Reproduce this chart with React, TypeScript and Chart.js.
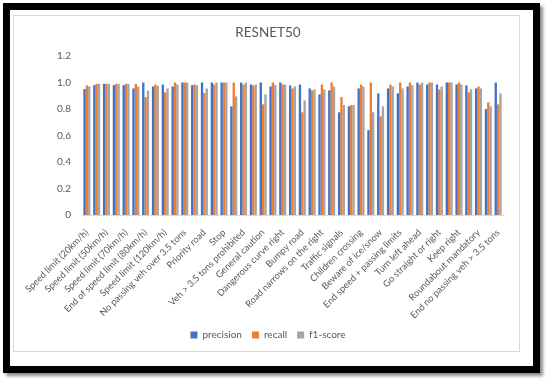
import React, { useEffect, useRef } from "react";
import { Chart, registerables } from "chart.js";

Chart.register(...registerables);

const categories = [
  "Speed limit (20km/h)",
  "Speed limit (30km/h)",
  "Speed limit (50km/h)",
  "Speed limit (60km/h)",
  "Speed limit (70km/h)",
  "Speed limit (80km/h)",
  "End of speed limit (80km/h)",
  "Speed limit (100km/h)",
  "Speed limit (120km/h)",
  "No passing",
  "No passing veh over 3.5 tons",
  "Right-of-way at intersection",
  "Priority road",
  "Yield",
  "Stop",
  "No vehicles",
  "Veh > 3.5 tons prohibited",
  "No entry",
  "General caution",
  "Dangerous curve left",
  "Dangerous curve right",
  "Double curve",
  "Bumpy road",
  "Slippery road",
  "Road narrows on the right",
  "Road work",
  "Traffic signals",
  "Pedestrians",
  "Children crossing",
  "Bicycles crossing",
  "Beware of ice/snow",
  "Wild animals crossing",
  "End speed + passing limits",
  "Turn right ahead",
  "Turn left ahead",
  "Ahead only",
  "Go straight or right",
  "Go straight or left",
  "Keep right",
  "Keep left",
  "Roundabout mandatory",
  "End of no passing",
  "End no passing veh > 3.5 tons",
];

const precision = [
  0.95, 0.98, 0.99, 0.98, 0.98, 0.955, 1.0, 0.97, 0.985, 0.97, 1.0, 0.98, 1.0, 1.0, 1.0,
  0.82, 1.0, 0.985, 1.0, 0.97, 1.0, 0.978, 0.985, 0.955, 0.91, 0.94, 0.775, 0.82, 0.955,
  0.64, 0.918, 0.955, 0.918, 0.97, 1.0, 0.985, 0.985, 1.0, 0.985, 0.978, 0.955, 0.8, 1.0,
];

const recall = [
  0.978, 0.99, 0.99, 0.99, 0.99, 0.99, 0.89, 0.985, 0.925, 1.0, 1.0, 0.985, 0.92, 0.985,
  1.0, 1.0, 0.985, 0.978, 0.835, 1.0, 0.985, 0.955, 0.775, 0.94, 0.985, 1.0, 0.89, 0.83,
  0.985, 1.0, 0.745, 0.985, 1.0, 1.0, 0.985, 1.0, 0.948, 1.0, 1.0, 0.925, 0.97, 0.85, 0.835,
];

const f1Score = [
  0.97, 0.99, 0.99, 0.99, 0.99, 0.97, 0.94, 0.975, 0.955, 0.985, 1.0, 0.98, 0.955, 1.0,
  1.0, 0.895, 1.0, 0.985, 0.91, 0.98, 0.985, 0.97, 0.865, 0.948, 0.948, 0.97, 0.83, 0.83,
  0.97, 0.775, 0.82, 0.97, 0.955, 0.98, 1.0, 1.0, 0.97, 1.0, 0.985, 0.948, 0.955, 0.82, 0.918,
];

const chartTitle = "RESNET50";
const seriesNames = ["precision", "recall", "f1-score"];
const seriesColors = ["#4472C4", "#ED7D31", "#A5A5A5"];

export default function App() {
  const canvasRef = useRef<HTMLCanvasElement | null>(null);

  useEffect(() => {
    if (!canvasRef.current) return;
    const textColor = "#595959";
    const family = "Lato, 'Liberation Sans', sans-serif";
    const chart = new Chart(canvasRef.current, {
      type: "bar",
      data: {
        labels: categories,
        datasets: [precision, recall, f1Score].map((d, i) => ({
          label: seriesNames[i],
          data: d,
          backgroundColor: seriesColors[i],
          borderWidth: 0,
          categoryPercentage: 0.72,
          barPercentage: 1.0,
        })),
      },
      options: {
        animation: false,
        responsive: false,
        maintainAspectRatio: false,
        layout: { padding: { left: 13, right: 23, top: 15, bottom: 33 } },
        plugins: {
          title: {
            display: true,
            text: chartTitle,
            color: textColor,
            font: { family, size: 13.5, weight: "normal" },
            padding: { top: 9.9, bottom: 14.9 },
          },
          legend: {
            position: "bottom",
            labels: {
              color: textColor,
              font: { family, size: 10 },
              boxWidth: 7,
              boxHeight: 7,
              padding: 10,
            },
          },
          tooltip: { enabled: false },
        },
        scales: {
          x: {
            grid: { display: false, drawTicks: false },
            border: { display: true, color: "#d9d9d9", width: 1 },
            ticks: {
              autoSkip: false,
              minRotation: 45,
              maxRotation: 45,
              color: textColor,
              font: { family, size: 9.3 },
              padding: 12,
              callback: function (this: any, val: any, idx: number) {
                return idx % 2 === 0 ? this.getLabelForValue(val) : "";
              },
            },
            afterFit: (scale: any) => {
              scale.height = 105;
              scale.paddingLeft = 0;
              scale.paddingRight = 43;
            },
          },
          y: {
            min: 0,
            max: 1.2,
            grid: { display: false, drawTicks: false },
            border: { display: false },
            ticks: {
              stepSize: 0.2,
              color: textColor,
              font: { family, size: 10 },
              padding: 11,
            },
            afterFit: (scale: any) => {
              scale.width = 69;
            },
          },
        },
      },
    });
    return () => chart.destroy();
  }, []);

  return (
    <div style={{ position: "fixed", left: 0, top: 0, width: 546, height: 383, background: "#fff" }}>
      <div
        style={{
          position: "absolute",
          left: 3,
          top: 3,
          width: 537,
          height: 370,
          border: "7px solid #000",
          boxSizing: "border-box",
          boxShadow: "3px 3px 3px rgba(0,0,0,0.45)",
        }}
      />
      <div
        style={{
          position: "absolute",
          left: 13,
          top: 15,
          width: 507,
          height: 337,
          border: "1px solid #d9d9d9",
          boxSizing: "border-box",
        }}
      />
      <canvas
        ref={canvasRef}
        width={546}
        height={383}
        style={{ position: "absolute", left: 0, top: 0, width: 546, height: 383 }}
      />
    </div>
  );
}
